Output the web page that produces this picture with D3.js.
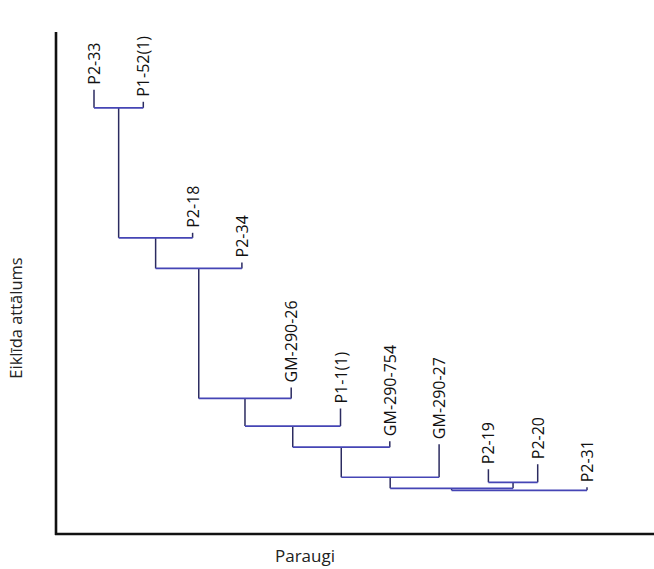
<!DOCTYPE html>
<html>
<head>
<meta charset="utf-8">
<script src="https://cdn.jsdelivr.net/npm/d3@7"></script>
<style>
  body { margin: 0; background: #fff; }
  svg { display: block; }
</style>
</head>
<body>
<div id="chart"></div>
<script>
// leaves in plotted order
const leaves = ["P2-33", "P1-52(1)", "P2-18", "P2-34", "GM-290-26", "P1-1(1)",
                "GM-290-754", "GM-290-27", "P2-19", "P2-20", "P2-31"];
// height where each leaf line starts
const leafTops = [88.5, 86.1, 60.0, 54.1, 29.2, 25.0, 18.5, 17.9, 12.9, 13.9, 9.3];
// linkage: [child a, child b, merge height]; new nodes numbered from 11
const merges = [
  [0, 1, 84.9],
  [11, 2, 59.0],
  [12, 3, 52.9],
  [13, 4, 27.0],
  [14, 5, 21.5],
  [15, 6, 17.3],
  [16, 7, 11.3],
  [8, 9, 10.3],
  [17, 18, 9.1],
  [19, 10, 8.7]
];

const W = 654, H = 569;
const axisX = 56, axisY = 534, topY = 32;

const svg = d3.select("#chart").append("svg")
    .attr("width", W).attr("height", H);

const x = d3.scalePoint().domain(leaves).range([94, 587]);
const y = d3.scaleLinear().domain([0, 100]).range([axisY, topY]);

// node positions: leaves first, then merged clusters
const nodes = leaves.map((name, i) => ({ x: x(name), top: leafTops[i] }));
merges.forEach(m => {
  const a = nodes[m[0]], b = nodes[m[1]];
  nodes.push({ x: (a.x + b.x) / 2, top: m[2] });
});

const g = svg.append("g");

// vertical stems
merges.forEach(m => {
  const h = m[2];
  [m[0], m[1]].forEach(c => {
    g.append("line")
      .attr("x1", nodes[c].x).attr("x2", nodes[c].x)
      .attr("y1", y(nodes[c].top)).attr("y2", y(h))
      .attr("stroke", "#2b2b60").attr("stroke-width", 1.5);
  });
});
// horizontal joins
merges.forEach(m => {
  g.append("line")
    .attr("x1", nodes[m[0]].x).attr("x2", nodes[m[1]].x)
    .attr("y1", y(m[2])).attr("y2", y(m[2]))
    .attr("stroke", "#4545b5").attr("stroke-width", 1.7);
});

// leaf labels
g.selectAll("text.leaf")
  .data(leaves).enter().append("text")
    .attr("class", "leaf")
    .attr("transform", (d, i) => `translate(${x(d) + 6},${y(leafTops[i]) - 5}) rotate(-90)`)
    .style("font-family", "'Open Sans', sans-serif")
    .style("font-size", "16px")
    .style("fill", "#111")
    .text(d => d);

// axis frame
svg.append("line")
  .attr("x1", axisX).attr("x2", axisX)
  .attr("y1", topY).attr("y2", axisY + 1)
  .attr("stroke", "#111").attr("stroke-width", 2.6);
svg.append("line")
  .attr("x1", axisX - 1).attr("x2", W)
  .attr("y1", axisY).attr("y2", axisY)
  .attr("stroke", "#111").attr("stroke-width", 2.6);

// axis titles
svg.append("text")
  .attr("transform", `translate(22,${(topY + axisY) / 2 + 35}) rotate(-90)`)
  .attr("text-anchor", "middle")
  .style("font-family", "'Open Sans', sans-serif")
  .style("font-size", "16.5px")
  .style("fill", "#222")
  .text("Eiklīda attālums");

svg.append("text")
  .attr("x", 305).attr("y", 562)
  .attr("text-anchor", "middle")
  .style("font-family", "'Open Sans', sans-serif")
  .style("font-size", "17px")
  .style("fill", "#222")
  .text("Paraugi");
</script>
</body>
</html>
